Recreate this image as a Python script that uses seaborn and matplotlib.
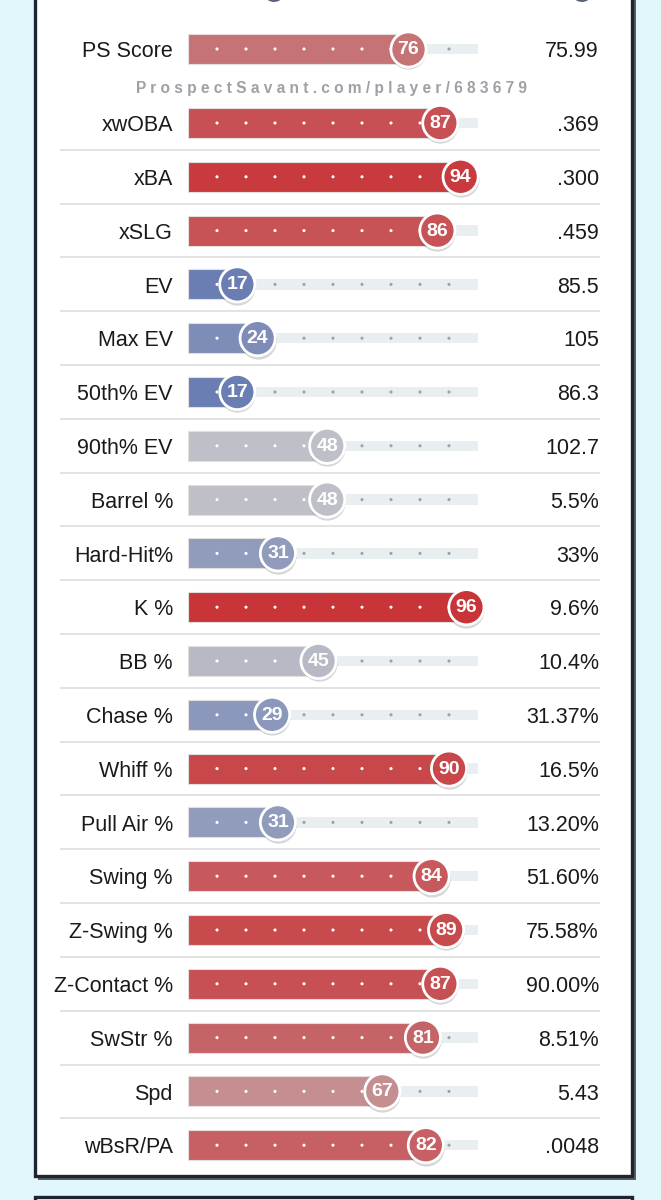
import numpy as np
import matplotlib
matplotlib.use("Agg")
import matplotlib.pyplot as plt
from matplotlib.colors import LinearSegmentedColormap
from matplotlib.patches import Rectangle, Circle
import seaborn as sns

# top row (PS Score) sits above the watermark
top_label = ["PS Score"]
top_pct = [76]
top_value = ["75.99"]

# main metrics
labels = ["xwOBA", "xBA", "xSLG", "EV", "Max EV", "50th% EV", "90th% EV",
          "Barrel %", "Hard-Hit%", "K %", "BB %", "Chase %", "Whiff %",
          "Pull Air %", "Swing %", "Z-Swing %", "Z-Contact %", "SwStr %",
          "Spd", "wBsR/PA"]
pct = [87, 94, 86, 17, 24, 17, 48, 48, 31, 96, 45, 29, 90, 31, 84, 89, 87,
       81, 67, 82]
values = [".369", ".300", ".459", "85.5", "105", "86.3", "102.7", "5.5%",
          "33%", "9.6%", "10.4%", "31.37%", "16.5%", "13.20%", "51.60%",
          "75.58%", "90.00%", "8.51%", "5.43", ".0048"]

watermark = "ProspectSavant.com/player/683679"

sns.set_style("white")
plt.rcParams["font.family"] = ["Liberation Sans", "DejaVu Sans"]

# blue -> grey -> red percentile scale
cmap = LinearSegmentedColormap.from_list(
    "savant", [(0, "#3d5ba9"), (0.5, "#c4c4c8"), (1, "#c8282b")])

W, H = 661, 1200
fig = plt.figure(figsize=(W / 100, H / 100), dpi=100)
fig.patch.set_facecolor("#e2f7fb")

# background card
bg = fig.add_axes([0, 0, 1, 1], zorder=-1)
bg.set_xlim(0, W)
bg.set_ylim(H, 0)
bg.axis("off")
bg.add_patch(Rectangle((38, -20), 598, 1200, facecolor="#5a5f66", edgecolor="none"))
bg.add_patch(Rectangle((34.5, -20), 597, 1196, facecolor="white", edgecolor="#1e2430", lw=2.4))
bg.add_patch(Rectangle((38, 1201), 598, 30, facecolor="#5a5f66", edgecolor="none"))
bg.add_patch(Rectangle((34.5, 1197), 597, 30, facecolor="white", edgecolor="#1e2430", lw=2.4))
for cx in (274, 582):
    bg.add_patch(Circle((cx, -9), 12, facecolor="#56617a", edgecolor="white", lw=1.5))
bg.text(331, 88, " ".join(watermark), ha="center", va="center",
        fontsize=11.2, color="#a0a0a6", fontweight="bold")

ROW = 53.8
X0, X1 = 188, 478


def draw_rows(ax, lab, p, val, seps):
    n = len(lab)
    cols = [cmap(v / 100) for v in p]
    sns.barplot(x=[100] * n, y=lab, color="#e9eff1", width=0.19,
                orient="h", ax=ax, saturation=1, linewidth=0)
    sns.barplot(x=p, y=lab, hue=lab, palette=dict(zip(lab, cols)),
                width=0.56, orient="h", ax=ax, legend=False, saturation=1,
                edgecolor="#e4dede", linewidth=0.8)
    ax.set_xlim(0, 100)
    ax.set_ylim(n - 0.5, -0.5)
    ax.axis("off")
    ticks = np.arange(10, 100, 10)
    for i, v in enumerate(p):
        ax.scatter(ticks, [i] * len(ticks), s=5, zorder=4, linewidth=0,
                   c=["white" if t < v else "#9aa3a8" for t in ticks])
        ax.text(-5.2, i + 0.05, lab[i], ha="right", va="center",
                fontsize=15.5, color="#1a1a1a")
        ax.text(141.7, i + 0.05, val[i], ha="right", va="center",
                fontsize=15.5, color="#1a1a1a")
    y = np.arange(n)
    ax.scatter(p, y + 0.045, s=680, color="#000000", alpha=0.16, zorder=5,
               linewidth=0, clip_on=False)
    ax.scatter(p, y, s=640, c=cols, edgecolors="white", linewidths=2,
               zorder=6, clip_on=False)
    for i, v in enumerate(p):
        ax.text(v, i + 0.01, str(v), ha="center", va="center", fontsize=14,
                fontweight="bold", color="white", zorder=7)
    if seps:
        ax.hlines(np.arange(n - 1) + 0.5, -44, 142, color="#dedede", lw=1.2,
                  clip_on=False, zorder=0)


n = len(labels)
top = 123 - ROW / 2
ax = fig.add_axes([X0 / W, 1 - (top + n * ROW) / H, (X1 - X0) / W, n * ROW / H])
ax.patch.set_alpha(0)
draw_rows(ax, labels, pct, values, True)

top0 = 49 - ROW / 2
ax0 = fig.add_axes([X0 / W, 1 - (top0 + ROW) / H, (X1 - X0) / W, ROW / H])
ax0.patch.set_alpha(0)
draw_rows(ax0, top_label, top_pct, top_value, False)

fig.savefig("out.png", dpi=100, facecolor=fig.get_facecolor())
